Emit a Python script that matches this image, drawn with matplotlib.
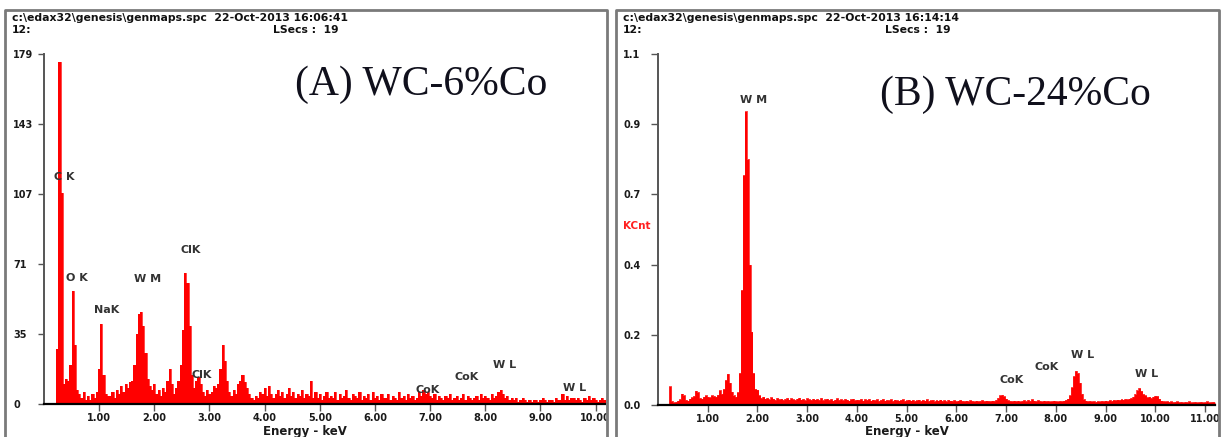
import numpy as np
import matplotlib
matplotlib.use("Agg")
import matplotlib.pyplot as plt
from matplotlib.lines import Line2D

plt.rcParams['font.family'] = ['DejaVu Sans']

W, H = 1221, 437

# channel calibration (keV)
E_START = 0.20
E_STEP = 0.04

# (A) WC-6%Co spectrum, counts per channel, one row per keV
counts_a = [
    0, 28, 175, 108, 10, 13, 12, 20, 58, 30, 7, 5, 3, 6, 2, 4, 2, 5, 3, 6, 18, 41, 15, 5, 4,
    4, 6, 3, 7, 5, 9, 6, 10, 8, 11, 12, 20, 36, 46, 47, 40, 26, 13, 9, 7, 10, 5, 7, 4, 8,
    6, 12, 18, 10, 5, 8, 12, 20, 38, 67, 62, 40, 15, 8, 12, 14, 10, 6, 4, 7, 5, 6, 9, 8, 10,
    18, 30, 22, 12, 6, 4, 7, 5, 10, 12, 15, 11, 8, 5, 3, 2, 4, 3, 6, 5, 8, 4, 9, 5, 3,
    5, 7, 4, 6, 3, 5, 8, 4, 6, 3, 5, 4, 7, 3, 5, 4, 12, 3, 6, 3, 5, 2, 4, 6, 3,
    4, 3, 6, 2, 5, 3, 4, 7, 3, 2, 5, 4, 3, 6, 2, 4, 3, 5, 2, 6, 3, 4, 2, 5, 3,
    3, 5, 2, 4, 3, 2, 6, 3, 4, 2, 5, 3, 4, 2, 3, 6, 4, 7, 5, 6, 4, 3, 5, 2, 4,
    3, 2, 4, 3, 5, 2, 3, 4, 2, 3, 5, 2, 4, 3, 2, 3, 4, 2, 5, 3, 4, 3, 2, 5, 3,
    4, 6, 7, 5, 3, 4, 2, 3, 2, 3, 1, 2, 3, 2, 1, 2, 1, 2, 2, 1, 2, 3, 2, 1, 2,
    2, 1, 3, 2, 2, 5, 2, 4, 2, 3, 3, 2, 3, 2, 1, 3, 2, 4, 2, 3, 2, 1, 2, 3, 2,
    1,
]

# (B) WC-24%Co spectrum, KCnt per channel
counts_b = [
    0.004, 0.058, 0.012, 0.008, 0.010, 0.014, 0.018, 0.036, 0.030, 0.016, 0.014, 0.020, 0.024,
    0.028, 0.045, 0.040, 0.022, 0.020, 0.026, 0.030, 0.026, 0.024, 0.030, 0.028, 0.026,
    0.032, 0.046, 0.035, 0.050, 0.078, 0.098, 0.070, 0.042, 0.030, 0.026, 0.040, 0.100, 0.360,
    0.720, 0.920, 0.770, 0.440, 0.230, 0.100, 0.050, 0.048, 0.030, 0.022, 0.026, 0.020,
    0.022, 0.018, 0.024, 0.020, 0.016, 0.022, 0.018, 0.020, 0.016, 0.019, 0.022, 0.017, 0.021,
    0.018, 0.016, 0.020, 0.023, 0.017, 0.019, 0.015, 0.021, 0.018, 0.016, 0.020, 0.017,
    0.019, 0.016, 0.022, 0.015, 0.018, 0.020, 0.016, 0.019, 0.014, 0.017, 0.021, 0.016, 0.018,
    0.015, 0.019, 0.017, 0.014, 0.018, 0.020, 0.015, 0.017, 0.016, 0.019, 0.014, 0.018,
    0.016, 0.019, 0.014, 0.017, 0.015, 0.018, 0.013, 0.016, 0.019, 0.014, 0.016, 0.015, 0.018,
    0.013, 0.017, 0.015, 0.014, 0.016, 0.018, 0.013, 0.015, 0.017, 0.014, 0.016, 0.013,
    0.015, 0.017, 0.013, 0.016, 0.014, 0.018, 0.013, 0.015, 0.016, 0.012, 0.015, 0.014, 0.017,
    0.013, 0.015, 0.012, 0.016, 0.014, 0.013, 0.015, 0.012, 0.014, 0.016, 0.013, 0.012,
    0.014, 0.012, 0.015, 0.013, 0.011, 0.014, 0.012, 0.013, 0.015, 0.012, 0.014, 0.013, 0.012,
    0.014, 0.013, 0.016, 0.022, 0.030, 0.032, 0.027, 0.020, 0.015, 0.013, 0.012, 0.014,
    0.012, 0.014, 0.011, 0.013, 0.015, 0.012, 0.016, 0.013, 0.018, 0.014, 0.012, 0.015, 0.013,
    0.011, 0.014, 0.012, 0.013, 0.011, 0.012, 0.014, 0.012, 0.011, 0.013, 0.012, 0.014,
    0.016, 0.020, 0.030, 0.055, 0.090, 0.107, 0.100, 0.070, 0.035, 0.018, 0.014, 0.012, 0.013,
    0.011, 0.012, 0.010, 0.012, 0.011, 0.013, 0.012, 0.014, 0.012, 0.015, 0.013, 0.016,
    0.015, 0.017, 0.016, 0.018, 0.017, 0.019, 0.018, 0.020, 0.022, 0.026, 0.034, 0.046, 0.053,
    0.044, 0.034, 0.030, 0.024, 0.026, 0.022, 0.026, 0.029, 0.028, 0.020, 0.014, 0.012,
    0.011, 0.012, 0.010, 0.011, 0.009, 0.010, 0.011, 0.009, 0.010, 0.008, 0.010, 0.009, 0.011,
    0.008, 0.009, 0.010, 0.008, 0.009, 0.010, 0.008, 0.009, 0.011, 0.008, 0.009, 0.010,
    0.009,
]

yticks_a = [0, 35.8, 71.6, 107.4, 143.2, 179]
ylabels_a = ['0', '35', '71', '107', '143', '179']
yticks_b = [0, 0.22, 0.44, 0.66, 0.88, 1.1]
ylabels_b = ['0.0', '0.2', '0.4', '0.7', '0.9', '1.1']
xticks_a = [1, 2, 3, 4, 5, 6, 7, 8, 9, 10]
xticks_b = [1, 2, 3, 4, 5, 6, 7, 8, 9, 10, 11]

# peak labels: (text, x px, y px)
peaks_a = [('C K', 64, 177), ('O K', 77, 278), ('NaK', 107, 310), ('W M', 148, 279),
           ('ClK', 191, 250), ('ClK', 202, 375), ('CoK', 428, 390), ('CoK', 467, 377),
           ('W L', 505, 365), ('W L', 575, 388)]
peaks_b = [('W M', 754, 100), ('CoK', 1012, 380), ('CoK', 1047, 367),
           ('W L', 1083, 355), ('W L', 1147, 374)]

headers = [
    (12, 'c:\\edax32\\genesis\\genmaps.spc  22-Oct-2013 16:06:41', 273),
    (623, 'c:\\edax32\\genesis\\genmaps.spc  22-Oct-2013 16:14:14', 885),
]


def fx(px):
    return px / W


def fy(py):
    return 1 - py / H


fig = plt.figure(figsize=(W / 100, H / 100), dpi=100)
fig.patch.set_facecolor('white')


def panel(x0, x1, y0, y1, counts, ymax, yticks, ylabels, xticks, xmax, ypad, ylen):
    ax = fig.add_axes([fx(x0), fy(y1), fx(x1) - fx(x0), fy(y0) - fy(y1)])
    energy = E_START + E_STEP * np.arange(len(counts))
    ax.fill_between(energy, counts, step='mid', color='#ff0000', lw=0)
    ax.step(energy, counts, where='mid', color='#ff0000', lw=0.5)
    ax.set_xlim(0, xmax)
    ax.set_ylim(0, ymax)
    ax.set_yticks(yticks, ylabels)
    ax.set_xticks(xticks, ['%.2f' % v for v in xticks])
    for s in ['top', 'right']:
        ax.spines[s].set_visible(False)
    ax.spines['bottom'].set_color('black')
    ax.spines['bottom'].set_linewidth(1.6)
    ax.spines['left'].set_color('#555555')
    ax.spines['left'].set_linewidth(1.4)
    ax.tick_params(axis='y', direction='out', length=ylen, width=1, color='#555555',
                   pad=ypad, labelsize=7, labelcolor='#1a1a1a')
    ax.tick_params(axis='x', direction='out', length=5, width=1, color='#555555',
                   pad=1.5, labelsize=7, labelcolor='#1a1a1a')
    for lab in ax.get_xticklabels():
        lab.set_fontweight('bold')
    for lab in ax.get_yticklabels():
        lab.set_fontweight('bold')
        lab.set_horizontalalignment('left')
    ax.set_facecolor('none')
    return ax


# y tick labels are left-aligned at a fixed x, as in the EDAX software
ax_a = panel(44, 605, 54, 404, counts_a, 179, yticks_a, ylabels_a, xticks_a, 10.17, 17.8, 4.5)
ax_b = panel(658, 1215, 54, 405, counts_b, 1.1, yticks_b, ylabels_b, xticks_b, 11.2, 20.2, 5)

for txt, px, py in peaks_a + peaks_b:
    fig.text(fx(px), fy(py), txt, ha='center', va='center', fontsize=8,
             fontweight='bold', color='#333333')

fig.text(fx(623), fy(226), 'KCnt', ha='left', va='center', fontsize=7.5,
         fontweight='bold', color='#ff2020')

fig.text(fx(305), fy(431), 'Energy - keV', ha='center', va='center', fontsize=8.5,
         fontweight='bold', color='#1a1a1a')
fig.text(fx(907), fy(431), 'Energy - keV', ha='center', va='center', fontsize=8.5,
         fontweight='bold', color='#1a1a1a')

for x, line1, xls in headers:
    fig.text(fx(x), fy(18), line1, ha='left', va='center', fontsize=7.8,
             fontweight='bold', color='#111111')
    fig.text(fx(x), fy(30), '12:', ha='left', va='center', fontsize=7.8,
             fontweight='bold', color='#111111')
    fig.text(fx(xls), fy(30), 'LSecs :  19', ha='left', va='center', fontsize=7.8,
             fontweight='bold', color='#111111')

fig.text(fx(421), fy(85), '(A) WC-6%Co', ha='center', va='center', fontsize=30,
         family='Liberation Serif', color='#10101c')
fig.text(fx(1015), fy(95), '(B) WC-24%Co', ha='center', va='center', fontsize=30,
         family='Liberation Serif', color='#10101c')

# white gap between the two panels, then the grey panel frames
gap = plt.Rectangle((fx(607), 0), fx(616) - fx(607), 1, transform=fig.transFigure,
                    color='white', zorder=5)
fig.add_artist(gap)
for xa, xb in [(5, 607), (616, 1219)]:
    fig.add_artist(Line2D([fx(xa), fx(xa), fx(xb), fx(xb)], [0, fy(10), fy(10), 0],
                          transform=fig.transFigure, color='#7a7a7a', lw=2, zorder=6))

fig.savefig('out.png', dpi=100)
